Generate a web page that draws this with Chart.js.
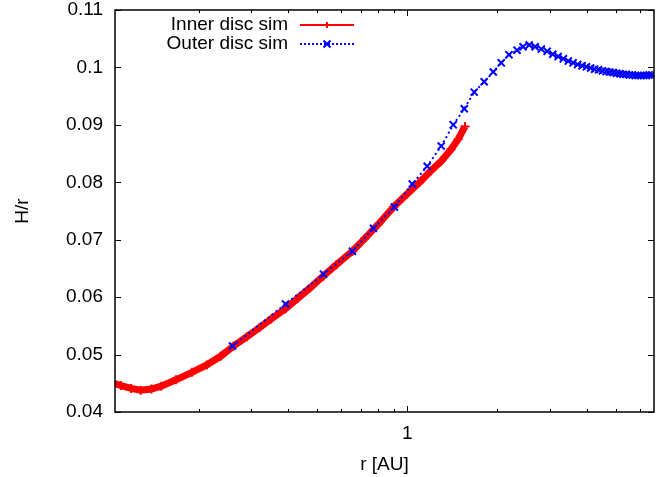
<!DOCTYPE html>
<html>
<head>
<meta charset="utf-8">
<script src="https://cdn.jsdelivr.net/npm/chart.js@4.4.1/dist/chart.umd.min.js"></script>
<style>
html,body{margin:0;padding:0;background:#fff;}
#wrap{width:670px;height:477px;position:relative;}
</style>
</head>
<body>
<div id="wrap"><canvas id="c" width="670" height="477"></canvas></div>
<script>
// ---- data ----
const innerLabel = "Inner disc sim";
const outerLabel = "Outer disc sim";
const xTitle = "r [AU]";
const yTitle = "H/r";

const rInner = [0.104,0.110,0.119,0.128,0.139,0.150,0.168,0.190,0.213,0.237,0.262,0.290,0.320,0.350,0.391,0.430,0.470,0.524,0.580,0.655,0.720,0.800,0.900,1.000,1.100,1.200,1.300,1.400,1.480,1.560];
const hInner = [0.0450,0.0446,0.0441,0.0438,0.0440,0.0445,0.0456,0.0469,0.0482,0.0497,0.0515,0.0531,0.0547,0.0562,0.0580,0.0598,0.0615,0.0637,0.0657,0.0680,0.0702,0.0727,0.0757,0.0780,0.0800,0.0820,0.0837,0.0857,0.0875,0.0897];

const rOuter = [0.260,0.391,0.524,0.655,0.770,0.905,1.039,1.166,1.299,1.425,1.551,1.675,1.809,1.940,2.063,2.190,2.330,2.440,2.560,2.680,2.810,2.940,3.070,3.200,3.330,3.460,3.590,3.720,3.850,3.980,4.110,4.240,4.370,4.500,4.630,4.760,4.890,5.020,5.150,5.280,5.410,5.540,5.670,5.800,5.930,6.060,6.190,6.320,6.450,6.580];
const hOuter = [0.0515,0.0588,0.0640,0.0680,0.0720,0.0757,0.0797,0.0828,0.0863,0.0900,0.0928,0.0957,0.0975,0.0992,0.1008,0.1022,0.1030,0.1036,0.1039,0.1036,0.1032,0.1028,0.1023,0.1019,0.1015,0.1011,0.1008,0.1005,0.1003,0.1001,0.0999,0.0997,0.0996,0.0994,0.0993,0.0992,0.0991,0.0990,0.0989,0.0988,0.0988,0.0987,0.0987,0.0986,0.0986,0.0986,0.0986,0.0986,0.0987,0.0987];

const xTickValues = [0.2,0.3,0.4,0.5,0.6,0.7,0.8,0.9,1,2,3,4,5,6];
const xTickLabels = {1: "1"};
const yTickValues = [0.04,0.05,0.06,0.07,0.08,0.09,0.10,0.11];
const xMin = 0.105, xMax = 6.7, yMin = 0.04, yMax = 0.11;

const FONT = "Liberation Sans, Arial, Helvetica, sans-serif";
const FS = 19;

const boxPlugin = {
  id: 'gnuBox',
  afterDraw(chart) {
    const ctx = chart.ctx;
    const a = chart.chartArea;
    const xs = chart.scales.x, ys = chart.scales.y;
    ctx.save();
    ctx.strokeStyle = '#000';
    ctx.lineWidth = 1.5;
    ctx.strokeRect(a.left, a.top, a.right - a.left, a.bottom - a.top);
    ctx.lineWidth = 1;
    ctx.beginPath();
    xTickValues.forEach(v => {
      const px = Math.round(xs.getPixelForValue(v)) + 0.5;
      const major = (v === 1);
      const L = major ? 6 : 3;
      ctx.moveTo(px, a.bottom); ctx.lineTo(px, a.bottom - L);
      ctx.moveTo(px, a.top); ctx.lineTo(px, a.top + L);
    });
    yTickValues.forEach(v => {
      const py = Math.round(ys.getPixelForValue(v)) + 0.5;
      ctx.moveTo(a.left, py); ctx.lineTo(a.left + 6, py);
      ctx.moveTo(a.right, py); ctx.lineTo(a.right - 6, py);
    });
    ctx.stroke();

    // axis titles
    ctx.fillStyle = '#000';
    ctx.font = FS + 'px ' + FONT;
    ctx.textAlign = 'center';
    ctx.textBaseline = 'middle';
    ctx.fillText(xTitle, (a.left + a.right) / 2, 465);
    ctx.save();
    ctx.translate(23, (a.top + a.bottom) / 2);
    ctx.rotate(-Math.PI / 2);
    ctx.fillText(yTitle, 0, 0);
    ctx.restore();

    // legend
    const rows = [
      {ds: chart.data.datasets[0], y: 25},
      {ds: chart.data.datasets[1], y: 44}
    ];
    rows.forEach(r => {
      ctx.textAlign = 'right';
      ctx.fillStyle = '#000';
      ctx.fillText(r.ds.label, 288, r.y);
      ctx.strokeStyle = r.ds.borderColor;
      ctx.lineWidth = 2;
      ctx.setLineDash(r.ds.legendDash);
      ctx.beginPath();
      ctx.moveTo(300, r.y); ctx.lineTo(354, r.y);
      ctx.stroke();
      ctx.setLineDash([]);
      ctx.beginPath();
      const cx = 327, cy = r.y;
      if (r.ds.pointStyle === 'cross') {
        ctx.moveTo(cx - 3, cy); ctx.lineTo(cx + 3, cy);
        ctx.moveTo(cx, cy - 3); ctx.lineTo(cx, cy + 3);
      } else {
        ctx.moveTo(cx - 3.5, cy - 3.5); ctx.lineTo(cx + 3.5, cy + 3.5);
        ctx.moveTo(cx - 3.5, cy + 3.5); ctx.lineTo(cx + 3.5, cy - 3.5);
      }
      ctx.stroke();
    });
    ctx.restore();
  }
};

new Chart(document.getElementById('c'), {
  type: 'scatter',
  data: {
    datasets: [
      {
        label: innerLabel,
        data: rInner.map((r, i) => ({x: r, y: hInner[i]})),
        showLine: true,
        borderColor: '#ff0000',
        backgroundColor: '#ff0000',
        borderWidth: 7,
        pointStyle: 'cross',
        pointRadius: 4.5,
        pointBorderWidth: 2,
        pointBorderColor: '#ff0000',
        order: 1,
        legendDash: []
      },
      {
        label: outerLabel,
        data: rOuter.map((r, i) => ({x: r, y: hOuter[i]})),
        showLine: true,
        borderColor: '#0000ff',
        backgroundColor: '#0000ff',
        borderWidth: 2,
        borderDash: [2, 3],
        pointStyle: 'crossRot',
        pointRadius: 5,
        pointBorderWidth: 2,
        pointBorderColor: '#0000ff',
        order: 0,
        legendDash: [2, 2]
      }
    ]
  },
  plugins: [boxPlugin],
  options: {
    responsive: false,
    animation: false,
    devicePixelRatio: 1,
    layout: {padding: {left: 0, right: 16, top: 10, bottom: 0}},
    plugins: {legend: {display: false}, tooltip: {enabled: false}, title: {display: false}},
    scales: {
      x: {
        type: 'logarithmic',
        min: xMin, max: xMax,
        grid: {display: false, drawTicks: false},
        border: {display: false},
        afterBuildTicks: s => { s.ticks = xTickValues.map(v => ({value: v})); },
        afterFit: s => { s.height = 65; s.paddingLeft = 0; s.paddingRight = 0; },
        ticks: {
          autoSkip: false, maxRotation: 0, padding: 10,
          color: '#000',
          font: {family: FONT, size: FS},
          callback: v => xTickLabels[v] || ''
        }
      },
      y: {
        type: 'linear',
        min: yMin, max: yMax,
        grid: {display: false, drawTicks: false},
        border: {display: false},
        afterBuildTicks: s => { s.ticks = yTickValues.map(v => ({value: v})); },
        afterFit: s => { s.width = 115; s.paddingTop = 0; s.paddingBottom = 0; },
        ticks: {
          padding: 12,
          color: '#000',
          font: {family: FONT, size: FS},
          callback: v => String(parseFloat(Number(v).toFixed(2)))
        }
      }
    }
  }
});
</script>
</body>
</html>
